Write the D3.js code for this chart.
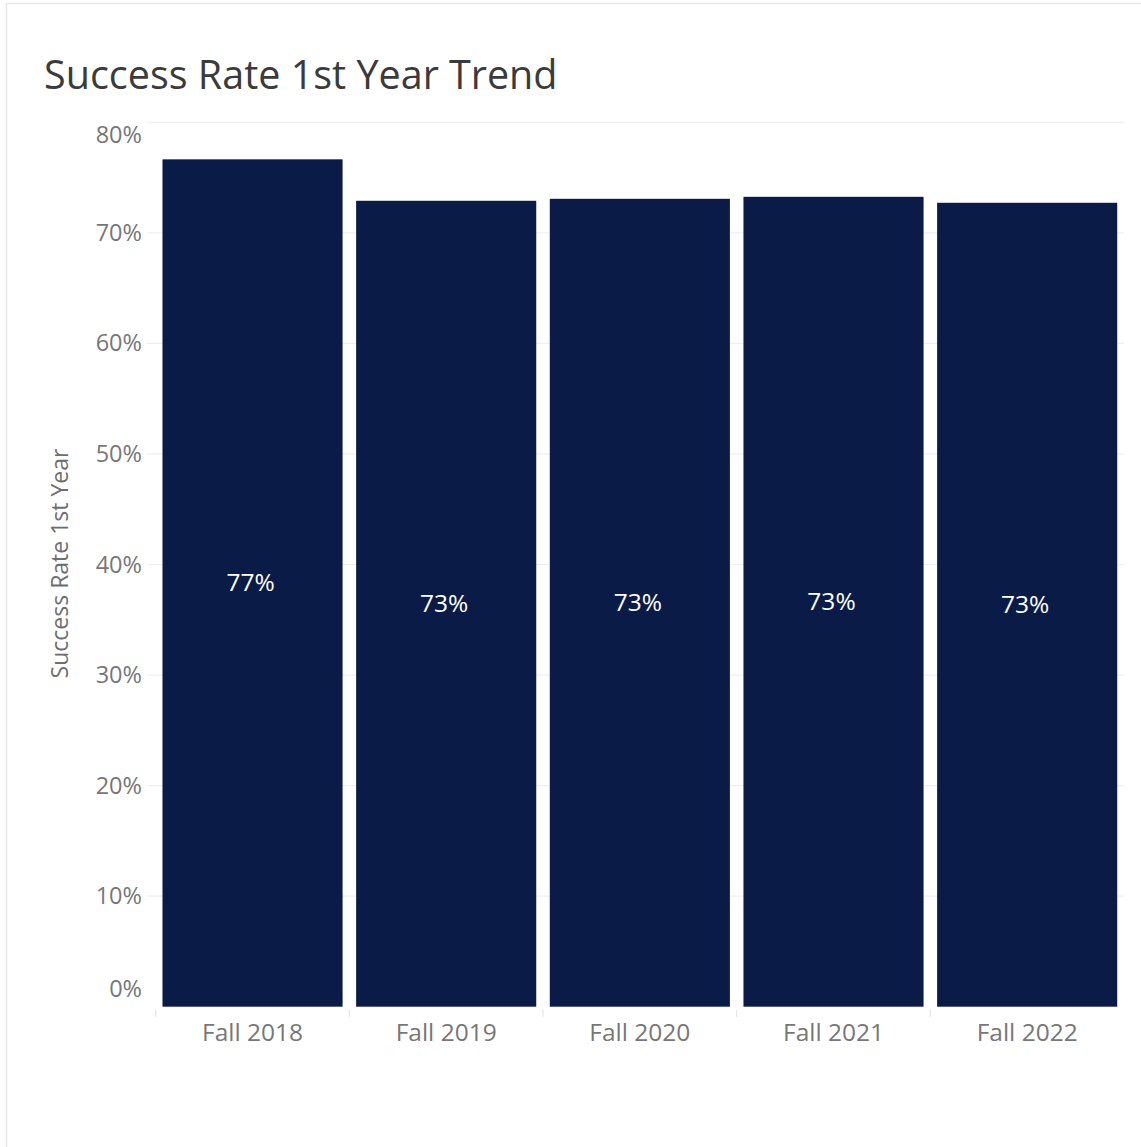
<!DOCTYPE html>
<html>
<head>
<meta charset="utf-8">
<script src="https://cdn.jsdelivr.net/npm/d3@7"></script>
<style>
  html, body { margin: 0; padding: 0; background: #fff; }
  svg { display: block; font-family: "Open Sans", sans-serif; }
</style>
</head>
<body>
<svg id="chart" width="1141" height="1147"></svg>
<script>
// Success rate for first-year students by fall cohort
const categories = ["Fall 2018", "Fall 2019", "Fall 2020", "Fall 2021", "Fall 2022"];
const successRate = [0.7665, 0.729, 0.7308, 0.7326, 0.7272];
const yTicks = [0, 0.1, 0.2, 0.3, 0.4, 0.5, 0.6, 0.7, 0.8];

const svg = d3.select("#chart");
const W = 1141, H = 1147;

// outer frame
svg.append("rect")
  .attr("x", 6.5).attr("y", 3.5)
  .attr("width", W + 10).attr("height", H + 10)
  .attr("fill", "none").attr("stroke", "#e8e8e8").attr("stroke-width", 1.5);

// title
svg.append("text")
  .attr("x", 44).attr("y", 89)
  .attr("font-size", 39.5).attr("fill", "#3b3b3b")
  .text("Success Rate 1st Year Trend");

const plot = { left: 155.7, right: 1124, top: 122.3, bottom: 1006.7 };

const x = d3.scaleBand()
  .domain(categories)
  .range([plot.left, plot.right])
  .paddingInner(0.07)
  .paddingOuter(0.035);

const y = d3.scaleLinear()
  .domain([0, 0.8])
  .range([plot.bottom, plot.top]);

// horizontal gridlines
svg.append("g")
  .selectAll("line")
  .data(yTicks.slice(1))
  .join("line")
  .attr("x1", 147).attr("x2", plot.right)
  .attr("y1", d => y(d)).attr("y2", d => y(d))
  .attr("stroke", "#efefef").attr("stroke-width", 1.2);

// y axis
const yAxis = svg.append("g")
  .attr("transform", `translate(${142},0)`)
  .call(d3.axisLeft(y).tickValues(yTicks).tickFormat(d3.format(".0%")).tickSize(0).tickPadding(0));
yAxis.select(".domain").remove();
yAxis.selectAll("text")
  .attr("font-family", "'Open Sans', sans-serif")
  .attr("font-size", 23.5)
  .attr("fill", "#777")
  .attr("dy", d => d === 0.8 ? "0.85em" : d === 0 ? "-0.42em" : "0.32em");

// y axis title
svg.append("text")
  .attr("transform", `translate(68,${(443 + 684) / 2}) rotate(-90)`)
  .attr("text-anchor", "middle")
  .attr("font-size", 23)
  .attr("fill", "#6e6e6e")
  .text("Success Rate 1st Year");

// bars
svg.append("g")
  .selectAll("rect")
  .data(categories)
  .join("rect")
  .attr("x", d => x(d))
  .attr("width", x.bandwidth())
  .attr("y", (d, i) => y(successRate[i]))
  .attr("height", (d, i) => y(0) - y(successRate[i]))
  .attr("fill", "#0a1b48");

// value labels, centred in each bar
svg.append("g")
  .selectAll("text")
  .data(categories)
  .join("text")
  .attr("x", d => x(d) + x.bandwidth() / 2 - 2)
  .attr("y", (d, i) => (y(successRate[i]) + y(0)) / 2)
  .attr("dy", "0.33em")
  .attr("text-anchor", "middle")
  .attr("font-size", 24.5)
  .attr("fill", "#ffffff")
  .text((d, i) => d3.format(".0%")(successRate[i]));

// category separators under the axis
svg.append("g")
  .selectAll("line")
  .data(categories)
  .join("line")
  .attr("x1", d => x(d) - x.step() * x.paddingInner() / 2 - (d === categories[0] ? x.step() * (x.paddingOuter() - x.paddingInner() / 2) : 0))
  .attr("x2", d => x(d) - x.step() * x.paddingInner() / 2 - (d === categories[0] ? x.step() * (x.paddingOuter() - x.paddingInner() / 2) : 0))
  .attr("y1", 1010).attr("y2", 1017)
  .attr("stroke", "#e6e6e6").attr("stroke-width", 1.2);

// x axis labels
const xAxis = svg.append("g")
  .attr("transform", `translate(0,${plot.bottom})`)
  .call(d3.axisBottom(x).tickSize(0).tickPadding(0));
xAxis.select(".domain").remove();
xAxis.selectAll("text")
  .attr("font-family", "'Open Sans', sans-serif")
  .attr("font-size", 24.5)
  .attr("fill", "#777")
  .attr("dy", "1.42em");
</script>
</body>
</html>
